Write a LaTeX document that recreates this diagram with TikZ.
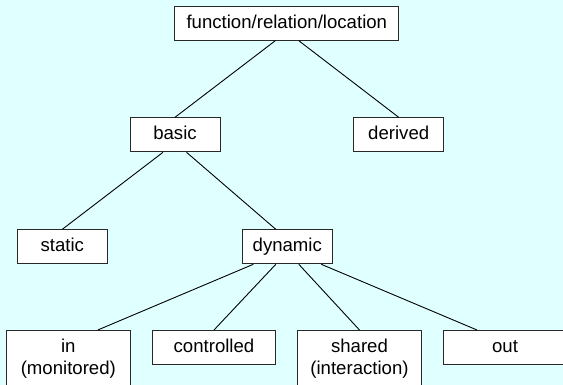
\documentclass[tikz,border=0pt]{standalone}
\usepackage{fontspec}
\setmainfont{Liberation Sans}
\definecolor{bgcyan}{RGB}{224,255,255}
\definecolor{edgegray}{RGB}{40,40,40}
\begin{document}
\begin{tikzpicture}[x=1pt,y=-1pt,
  box/.style={draw=edgegray,fill=white,line width=1pt,anchor=north,
    font=\fontsize{18.6}{22}\selectfont,align=center,
    text height=14pt,text depth=4pt,inner ysep=8pt,inner xsep=2pt},
  small/.style={box,minimum width=90pt},
  wide/.style={box,minimum width=123.5pt},
  twoline/.style={text height=36pt},
  link/.style={draw=black,line width=0.9pt}]
\fill[bgcyan] (0,0) rectangle (563,385);
\useasboundingbox (0,0) rectangle (563,385);
\node[box,minimum width=224pt] (top) at (286.8,5.7) {function/relation/location};
\node[small] (basic) at (175,117.3) {basic};
\node[small] (derived) at (398.7,117.3) {derived};
\node[small] (static) at (62.3,229.3) {static};
\node[small] (dynamic) at (287.3,229.3) {dynamic};
\node[wide,twoline] (in) at (68.3,330) {in\\(monitored)};
\node[wide] (controlled) at (214,330) {controlled};
\node[wide,twoline] (shared) at (359.5,330) {shared\\(interaction)};
\node[wide] (out) at (505,330) {out};
\draw[link] ([xshift=-11.5pt]top.south) -- (basic.north);
\draw[link] ([xshift=12pt]top.south) -- (derived.north);
\draw[link] ([xshift=-12pt]basic.south) -- (static.north);
\draw[link] ([xshift=11.5pt]basic.south) -- ([xshift=-11.5pt]dynamic.north);
\draw[link] ([xshift=-34pt]dynamic.south) -- ([xshift=29.5pt]in.north);
\draw[link] ([xshift=-11.5pt]dynamic.south) -- (controlled.north);
\draw[link] ([xshift=11.5pt]dynamic.south) -- (shared.north);
\draw[link] ([xshift=34pt]dynamic.south) -- ([xshift=-28pt]out.north);
\end{tikzpicture}
\end{document}
